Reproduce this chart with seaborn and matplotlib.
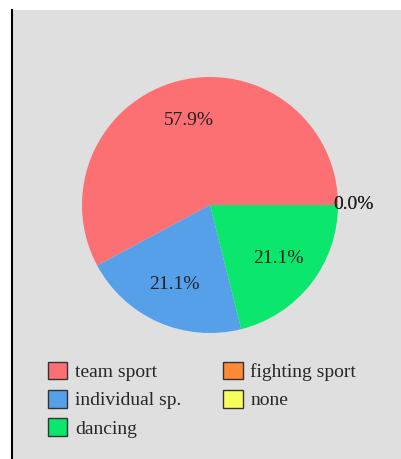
import numpy as np
import matplotlib
matplotlib.use("Agg")
import matplotlib.pyplot as plt
import matplotlib.patches as mpatches
import seaborn as sns

categories = ["team sport", "individual sp.", "dancing", "fighting sport", "none"]
shares = [57.9, 21.1, 21.1, 0.0, 0.0]
slice_colors = ["#fc6f73", "#56a0ea", "#0be66c", "#fe8a36", "#f8ff5c"]

sns.set_theme(style="white", rc={"axes.facecolor": "#dfdfdf", "figure.facecolor": "white"})
plt.rcParams["font.family"] = ["Liberation Serif", "DejaVu Serif"]

palette = sns.color_palette(slice_colors)

W, H = 402, 459
fig = plt.figure(figsize=(W / 100, H / 100), dpi=100)
ax = fig.add_axes([12 / W, 0, 390 / W, 449 / H])

cx, cy, r = 198, 459 - 205, 128
wedges, texts, autotexts = ax.pie(
    shares, colors=palette, startangle=0, counterclock=True,
    center=(cx, cy), radius=r, autopct="%.1f%%", pctdistance=0.68,
    wedgeprops={"linewidth": 0}, frame=True,
    textprops={"fontsize": 14, "color": "#222222"},
)
for w, t, v in zip(wedges, autotexts, shares):
    t.set_text(f"{v:.1f}%")
    if v == 0:
        ang = np.deg2rad((w.theta1 + w.theta2) / 2)
        t.set_position((cx + 1.12 * r * np.cos(ang), cy + 1.12 * r * np.sin(ang)))

ax.set_xlim(0, 390)
ax.set_ylim(0, 449)
ax.set_aspect("auto")
ax.set_xticks([])
ax.set_yticks([])
for s in ["top", "right", "bottom"]:
    ax.spines[s].set_visible(False)
ax.spines["left"].set_color("black")
ax.spines["left"].set_linewidth(1.5)

handles = [mpatches.Patch(facecolor=c, edgecolor="#333333", linewidth=1) for c in palette]
ax.legend(handles, categories, ncol=2, loc="upper left", bbox_to_anchor=(36, 449 - 352),
          bbox_transform=ax.transData, frameon=False, fontsize=14,
          handlelength=1.0, handleheight=1.0, handletextpad=0.4,
          labelspacing=0.45, columnspacing=2.15, borderaxespad=0, borderpad=0)

fig.savefig("out.png", dpi=100)
